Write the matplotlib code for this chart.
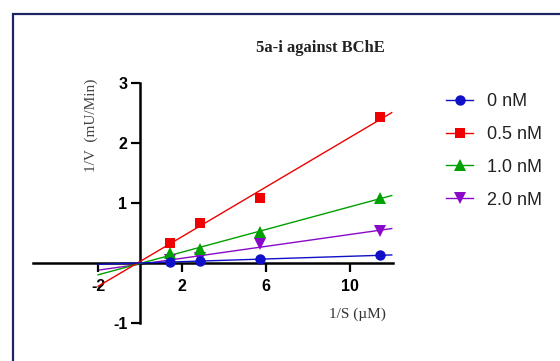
import numpy as np
import matplotlib
matplotlib.use("Agg")
import matplotlib.pyplot as plt
from matplotlib.patches import Rectangle

plt.rcParams["axes.unicode_minus"] = False

# Lineweaver-Burk data: 1/[S] against 1/V for each inhibitor concentration
inv_s = [1.43, 2.86, 5.71, 11.43]
series_labels = ["0 nM", "0.5 nM", "1.0 nM", "2.0 nM"]
inv_v_0 = [0.02, 0.03, 0.06, 0.13]
inv_v_05 = [0.34, 0.67, 1.09, 2.43]
inv_v_10 = [0.16, 0.23, 0.52, 1.08]
inv_v_20 = [0.05, 0.09, 0.31, 0.53]
fit_range = [-2, 12]

x_ticks = [-2, 2, 6, 10]
y_ticks = [-1, 1, 2, 3]

colors = ["#1010c8", "#f00000", "#00a000", "#8a08c8"]
markers = ["o", "s", "^", "v"]
sizes = [7.5, 7.5, 8, 8]
zorders = [6, 5, 4, 3]

fig = plt.figure(figsize=(5.6, 3.61), dpi=100)
fig.patch.set_facecolor("white")

# navy frame around the panel
fig.patches.append(Rectangle((12.7 / 560, -0.2), 1.2, 1 - 14.3 / 361 + 0.2,
                             transform=fig.transFigure, fill=False,
                             edgecolor="#1c2462", linewidth=1.6, zorder=0))

ax = fig.add_axes([33 / 560, 1 - 323 / 361, 360 / 560, 240 / 361])
ax.set_xlim(-5.1, 12.06)
ax.set_ylim(-1, 3)

series = [inv_v_0, inv_v_05, inv_v_10, inv_v_20]
xs_fit = np.array(fit_range, dtype=float)
handles = []
for yv, lab, c, m, ms, z in zip(series, series_labels, colors, markers, sizes, zorders):
    slope, icpt = np.polyfit(inv_s, yv, 1)
    ax.plot(xs_fit, slope * xs_fit + icpt, color=c, lw=1.0, zorder=z - 2, clip_on=False)
    ax.plot(inv_s, yv, linestyle="none", marker=m, ms=ms, color=c,
            markeredgewidth=0, zorder=z)
    h, = ax.plot([], [], color=c, lw=1.0, marker=m, ms=ms, markeredgewidth=0)
    handles.append(h)

for side in ["top", "right"]:
    ax.spines[side].set_visible(False)
ax.spines["left"].set_position(("data", 0))
ax.spines["bottom"].set_position(("data", 0))
for side in ["left", "bottom"]:
    ax.spines[side].set_linewidth(1.8)
    ax.spines[side].set_zorder(1)

ax.set_xticks(x_ticks)
ax.set_yticks(y_ticks)
ax.tick_params(axis="both", direction="out", length=6.5, width=1.6, color="black")
ax.tick_params(axis="x", pad=5)
ax.tick_params(axis="y", pad=2.5)
for lab in ax.get_xticklabels() + ax.get_yticklabels():
    lab.set_fontfamily("Liberation Sans")
    lab.set_fontweight("bold")
    lab.set_fontsize(11.5)

fig.text(320 / 560, 1 - 48 / 361, "5a-i against BChE", ha="center", va="center",
         fontfamily="Liberation Serif", fontweight="bold", fontsize=12, color="#222222")
fig.text(91 / 560, 1 - 125 / 361, "1/V  (mU/Min)", ha="center", va="center",
         rotation=90, fontfamily="Liberation Serif", fontsize=11, color="#444444")
fig.text(357 / 560, 1 - 314 / 361, "1/S (\u00b5M)", ha="center", va="center",
         fontfamily="Liberation Serif", fontsize=11, color="#333333")

fig.legend(handles, series_labels, loc="upper left",
           bbox_to_anchor=(446 / 560, 1 - 93 / 361), frameon=False,
           prop={"family": "Liberation Sans", "size": 13},
           handlelength=1.5, handletextpad=0.75, labelspacing=0.88,
           borderpad=0, borderaxespad=0, labelcolor="#222222")

fig.savefig("out.png", dpi=100, facecolor="white")
